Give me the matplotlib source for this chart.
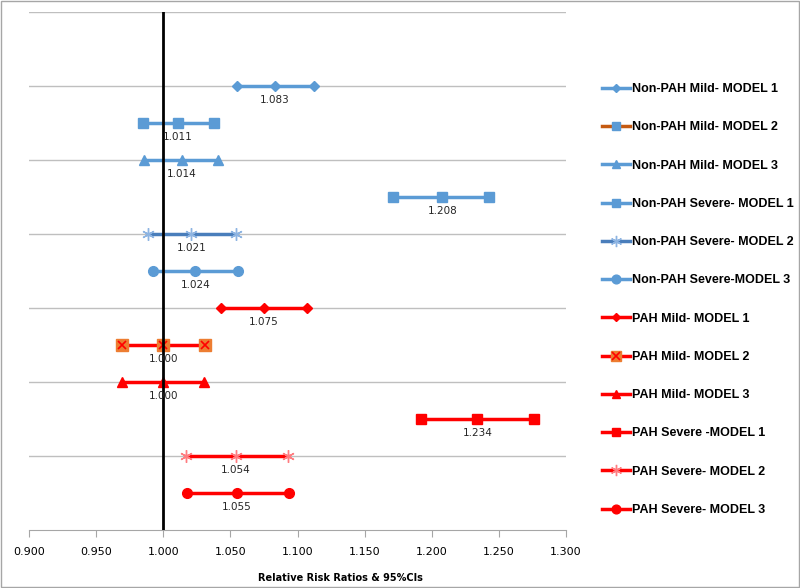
import matplotlib
matplotlib.use("Agg")
import matplotlib.pyplot as plt
from matplotlib.lines import Line2D
from matplotlib.patches import Rectangle
from matplotlib.legend_handler import HandlerTuple

labels = ["Non-PAH Mild- MODEL 1", "Non-PAH Mild- MODEL 2", "Non-PAH Mild- MODEL 3",
          "Non-PAH Severe- MODEL 1", "Non-PAH Severe- MODEL 2", "Non-PAH Severe-MODEL 3",
          "PAH Mild- MODEL 1", "PAH Mild- MODEL 2", "PAH Mild- MODEL 3",
          "PAH Severe -MODEL 1", "PAH Severe- MODEL 2", "PAH Severe- MODEL 3"]
rr = [1.083, 1.011, 1.014, 1.208, 1.021, 1.024, 1.075, 1.000, 1.000, 1.234, 1.054, 1.055]
lo = [1.055, 0.985, 0.986, 1.171, 0.989, 0.992, 1.043, 0.969, 0.969, 1.192, 1.017, 1.018]
hi = [1.112, 1.038, 1.041, 1.243, 1.054, 1.056, 1.107, 1.031, 1.030, 1.276, 1.093, 1.094]
rows = [12, 11, 10, 9, 8, 7, 6, 5, 4, 3, 2, 1]
xticks = [0.900, 0.950, 1.000, 1.050, 1.100, 1.150, 1.200, 1.250, 1.300]

BLUE = "#5B9BD5"
DBLUE = "#4A7EBB"
RED = "#FF0000"
ORANGE = "#ED7D31"
# line color, marker, marker face, marker edge, marker size, legend line color
styles = [
    (BLUE, "D", BLUE, BLUE, 5, BLUE),
    (BLUE, "s", BLUE, BLUE, 7, "#C55A11"),
    (BLUE, "^", BLUE, BLUE, 7, BLUE),
    (BLUE, "s", BLUE, BLUE, 7, BLUE),
    (DBLUE, (6, 2, 0), "#8DB4E2", "#8DB4E2", 9, DBLUE),
    (BLUE, "o", BLUE, BLUE, 7, BLUE),
    (RED, "D", RED, RED, 5, RED),
    (RED, "s", ORANGE, ORANGE, 8, RED),
    (RED, "^", RED, RED, 7, RED),
    (RED, "s", RED, RED, 7, RED),
    (RED, (6, 2, 0), "#FF7C80", "#FF7C80", 9, RED),
    (RED, "o", RED, RED, 7, RED),
]

fig = plt.figure(figsize=(8, 5.88), dpi=100)
ax = fig.add_axes([29/800, 1-530/588, (566-29)/800, (530-12)/588])

handles = []
for i in range(12):
    lc, mk, mf, me, ms, llc = styles[i]
    y = rows[i]
    xs = [lo[i], rr[i], hi[i]]
    ax.plot(xs, [y]*3, color=lc, lw=2.5, marker=mk, markersize=ms,
            markerfacecolor=mf, markeredgecolor=me, zorder=4)
    h = Line2D([], [], color=llc, lw=2.5, marker=mk, markersize=ms*0.9,
               markerfacecolor=mf, markeredgecolor=me)
    if i == 7:
        ax.plot(xs, [y]*3, ls="none", marker="x", markersize=6, color=RED,
                markeredgewidth=1.2, zorder=5)
        hx = Line2D([], [], ls="none", marker="x", markersize=5.5, color=RED,
                    markeredgewidth=1.2)
        h = (h, hx)
    handles.append(h)
    ax.text(rr[i], y - 0.37, f"{rr[i]:.3f}", ha="center", va="center",
            fontsize=7.5, color="#262626", family="DejaVu Sans", zorder=6)

ax.axvline(1.0, color="black", lw=2, zorder=5)
ax.set_xlim(0.9, 1.3)
ax.set_ylim(0, 14)
ax.set_yticks([2, 4, 6, 8, 10, 12, 14])
ax.yaxis.grid(True, color="#BFBFBF", lw=1)
ax.tick_params(axis="y", length=0, labelleft=False)
ax.set_xticks(xticks)
ax.set_xticklabels([f"{v:.3f}" for v in xticks], fontsize=8)
ax.tick_params(axis="x", direction="out", length=5, color="#A6A6A6", pad=7)
for s in ["left", "right", "top"]:
    ax.spines[s].set_visible(False)
ax.spines["bottom"].set_color("#A6A6A6")
ax.set_axisbelow(True)

fig.text(340/800, 1-578/588, "Relative Risk Ratios & 95%CIs", ha="center", va="center",
         fontsize=7, fontweight="bold")

leg = fig.legend(handles, labels, loc="center left", bbox_to_anchor=(602/800, 1-299.5/588),
                 frameon=False, prop={"weight": "bold", "size": 9, "family": "Liberation Sans"},
                 labelspacing=2.1, handlelength=2.2, handletextpad=0.2, borderpad=0,
                 borderaxespad=0, handler_map={tuple: HandlerTuple(ndivide=1)})

fig.patches.append(Rectangle((0.001, 0.001), 0.998, 0.998, transform=fig.transFigure,
                             fill=False, edgecolor="#A6A6A6", lw=1))

fig.savefig("out.png", dpi=100)
